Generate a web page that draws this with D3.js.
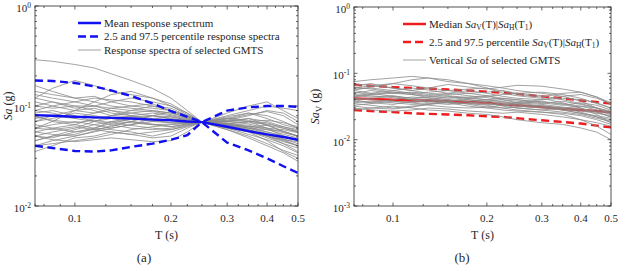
<!DOCTYPE html>
<html><head><meta charset="utf-8">
<script src="https://cdn.jsdelivr.net/npm/d3@7"></script>
<style>
body{margin:0;background:#fff}
svg{display:block}
text{font-family:"Liberation Serif","DejaVu Serif",serif;fill:#262626}
</style>
</head><body>
<svg id="chart" width="619" height="266"></svg>
<script>
// ---------- data ----------
const periods = [0.075,0.085,0.1,0.115,0.13,0.15,0.175,0.2,0.225,0.25,0.3,0.35,0.4,0.45,0.5];

// panel (a)
const meanA  = [0.081,0.080,0.078,0.077,0.076,0.075,0.073,0.072,0.070,0.069,0.062,0.056,0.052,0.049,0.046];
const upperA = [0.18,0.178,0.17,0.157,0.143,0.126,0.106,0.089,0.078,0.069,0.09,0.097,0.1,0.1,0.098];
const lowerA = [0.04,0.038,0.0355,0.035,0.036,0.039,0.042,0.046,0.051,0.069,0.043,0.036,0.030,0.025,0.0214];
const gmtsA = [
 [0.29,0.28,0.26,0.24,0.21,0.18,0.15,0.12,0.09,0.069,0.085,0.10,0.11,0.09,0.075],
 [0.12,0.15,0.18,0.16,0.14,0.13,0.12,0.105,0.085,0.069,0.08,0.09,0.10,0.095,0.09],
 [0.06,0.07,0.09,0.11,0.13,0.14,0.12,0.10,0.082,0.069,0.075,0.085,0.08,0.07,0.06],
 [0.05,0.055,0.06,0.07,0.08,0.09,0.10,0.095,0.08,0.069,0.06,0.055,0.05,0.045,0.04],
 [0.09,0.085,0.075,0.07,0.065,0.06,0.058,0.06,0.065,0.069,0.07,0.075,0.065,0.055,0.05],
 [0.04,0.045,0.05,0.055,0.06,0.065,0.07,0.072,0.07,0.069,0.062,0.055,0.045,0.035,0.03],
 [0.14,0.13,0.12,0.125,0.11,0.10,0.095,0.09,0.08,0.069,0.065,0.06,0.055,0.05,0.045],
 [0.07,0.08,0.075,0.085,0.09,0.08,0.085,0.08,0.074,0.069,0.066,0.07,0.068,0.06,0.055],
 [0.035,0.04,0.048,0.05,0.055,0.052,0.055,0.058,0.064,0.069,0.075,0.07,0.06,0.05,0.045],
 [0.10,0.11,0.095,0.10,0.11,0.12,0.11,0.10,0.085,0.069,0.058,0.05,0.042,0.036,0.032],
 [0.08,0.07,0.065,0.06,0.07,0.075,0.07,0.068,0.068,0.069,0.072,0.08,0.09,0.085,0.07],
 [0.06,0.065,0.07,0.065,0.06,0.065,0.075,0.078,0.073,0.069,0.063,0.058,0.052,0.046,0.04],
 [0.11,0.10,0.09,0.085,0.095,0.10,0.105,0.09,0.078,0.069,0.064,0.058,0.05,0.042,0.035],
 [0.045,0.05,0.058,0.065,0.07,0.068,0.065,0.062,0.066,0.069,0.07,0.068,0.066,0.062,0.058],
 [0.075,0.08,0.09,0.095,0.085,0.08,0.075,0.072,0.07,0.069,0.067,0.064,0.058,0.052,0.048],
 [0.055,0.06,0.065,0.075,0.08,0.085,0.09,0.085,0.076,0.069,0.06,0.052,0.046,0.04,0.034],
 [0.13,0.12,0.11,0.10,0.09,0.085,0.08,0.075,0.072,0.069,0.066,0.062,0.064,0.06,0.055],
 [0.05,0.048,0.055,0.06,0.058,0.055,0.05,0.055,0.062,0.069,0.078,0.085,0.075,0.065,0.06],
 [0.085,0.09,0.08,0.07,0.075,0.07,0.065,0.066,0.068,0.069,0.068,0.062,0.055,0.05,0.046],
 [0.065,0.06,0.055,0.058,0.062,0.07,0.08,0.088,0.08,0.069,0.065,0.06,0.058,0.056,0.05],
 [0.1,0.095,0.1,0.09,0.08,0.078,0.072,0.068,0.068,0.069,0.074,0.082,0.088,0.08,0.065],
 [0.04,0.042,0.045,0.048,0.052,0.058,0.062,0.065,0.067,0.069,0.064,0.058,0.05,0.044,0.04],
 [0.16,0.14,0.12,0.11,0.1,0.095,0.09,0.085,0.078,0.069,0.058,0.048,0.04,0.034,0.028],
 [0.07,0.075,0.085,0.08,0.075,0.078,0.08,0.074,0.071,0.069,0.07,0.066,0.06,0.054,0.05],
 [0.055,0.052,0.05,0.056,0.064,0.07,0.066,0.062,0.066,0.069,0.072,0.07,0.072,0.068,0.062],
 [0.09,0.1,0.11,0.12,0.115,0.11,0.1,0.09,0.08,0.069,0.062,0.056,0.048,0.042,0.038],
 [0.06,0.058,0.062,0.058,0.055,0.052,0.048,0.05,0.06,0.069,0.076,0.072,0.064,0.056,0.05],
 [0.12,0.11,0.1,0.1,0.095,0.09,0.088,0.082,0.075,0.069,0.065,0.062,0.06,0.058,0.054],
 [0.078,0.072,0.068,0.072,0.068,0.064,0.06,0.058,0.063,0.069,0.066,0.06,0.053,0.047,0.042],
 [0.045,0.05,0.052,0.06,0.067,0.074,0.08,0.078,0.072,0.069,0.07,0.075,0.07,0.062,0.056],
 [0.05,0.046,0.044,0.046,0.048,0.046,0.044,0.045,0.055,0.069,0.062,0.056,0.05,0.046,0.044]
];

// panel (b)
const medianB = [0.042,0.041,0.040,0.039,0.039,0.038,0.037,0.036,0.034,0.033,0.031,0.029,0.028,0.027,0.0258];
const upperB  = [0.067,0.065,0.062,0.06,0.059,0.057,0.055,0.053,0.051,0.049,0.045,0.042,0.039,0.037,0.035];
const lowerB  = [0.028,0.027,0.026,0.025,0.0245,0.024,0.0233,0.0225,0.022,0.021,0.0196,0.0185,0.0175,0.0163,0.0153];
const gmtsB = [
 [0.075,0.08,0.085,0.09,0.085,0.075,0.07,0.065,0.06,0.055,0.05,0.045,0.038,0.03,0.024],
 [0.06,0.065,0.06,0.055,0.06,0.068,0.062,0.058,0.062,0.066,0.064,0.058,0.052,0.044,0.036],
 [0.05,0.055,0.05,0.048,0.045,0.042,0.044,0.046,0.04,0.038,0.035,0.038,0.034,0.03,0.026],
 [0.04,0.042,0.045,0.04,0.038,0.036,0.035,0.034,0.035,0.032,0.03,0.028,0.025,0.022,0.02],
 [0.035,0.033,0.03,0.032,0.034,0.036,0.035,0.033,0.03,0.028,0.026,0.024,0.02,0.016,0.012],
 [0.03,0.028,0.027,0.028,0.03,0.029,0.027,0.026,0.025,0.026,0.024,0.022,0.02,0.018,0.016],
 [0.045,0.05,0.055,0.05,0.046,0.05,0.055,0.05,0.045,0.042,0.04,0.045,0.048,0.042,0.035],
 [0.055,0.05,0.045,0.042,0.04,0.044,0.04,0.038,0.036,0.034,0.032,0.03,0.028,0.026,0.022],
 [0.065,0.07,0.06,0.055,0.05,0.048,0.05,0.052,0.055,0.05,0.046,0.04,0.035,0.03,0.025],
 [0.038,0.036,0.04,0.044,0.042,0.038,0.034,0.031,0.03,0.031,0.033,0.03,0.026,0.022,0.018],
 [0.048,0.046,0.043,0.04,0.036,0.034,0.036,0.038,0.034,0.03,0.028,0.026,0.024,0.021,0.019],
 [0.033,0.035,0.038,0.036,0.033,0.031,0.03,0.031,0.033,0.036,0.04,0.042,0.04,0.036,0.03],
 [0.058,0.06,0.055,0.06,0.056,0.05,0.046,0.043,0.04,0.036,0.032,0.029,0.027,0.025,0.023],
 [0.042,0.04,0.038,0.036,0.038,0.04,0.037,0.035,0.033,0.035,0.038,0.034,0.03,0.024,0.018],
 [0.07,0.065,0.07,0.065,0.06,0.055,0.058,0.06,0.054,0.048,0.044,0.05,0.052,0.044,0.034],
 [0.028,0.03,0.032,0.03,0.028,0.027,0.025,0.024,0.022,0.02,0.018,0.017,0.015,0.013,0.01],
 [0.052,0.048,0.05,0.052,0.048,0.045,0.042,0.04,0.042,0.04,0.037,0.035,0.032,0.028,0.025],
 [0.036,0.038,0.036,0.034,0.035,0.038,0.04,0.036,0.032,0.03,0.028,0.03,0.032,0.03,0.027],
 [0.044,0.048,0.052,0.048,0.043,0.04,0.038,0.04,0.038,0.033,0.031,0.028,0.025,0.023,0.021],
 [0.062,0.058,0.052,0.05,0.052,0.055,0.05,0.046,0.042,0.04,0.036,0.033,0.036,0.033,0.028],
 [0.04,0.036,0.034,0.038,0.04,0.036,0.032,0.03,0.028,0.027,0.026,0.025,0.023,0.02,0.017],
 [0.046,0.044,0.046,0.042,0.044,0.046,0.043,0.04,0.037,0.036,0.034,0.031,0.029,0.027,0.024],
 [0.056,0.062,0.07,0.08,0.085,0.08,0.07,0.06,0.05,0.046,0.042,0.036,0.03,0.026,0.022],
 [0.032,0.03,0.029,0.031,0.034,0.038,0.042,0.045,0.048,0.05,0.052,0.048,0.042,0.035,0.03]
];

const xTickValues = [0.1,0.2,0.3,0.4,0.5];
const xTickLabels = ["0.1","0.2","0.3","0.4","0.5"];
const xMinorTicks = [0.075,0.08,0.09,0.125,0.15,0.175,0.225,0.25,0.275,0.325,0.35,0.375,0.425,0.45,0.475];
const yTicksA = [0.01,0.1,1], yExpA = ["-2","-1","0"];
const yTicksB = [0.001,0.01,0.1,1], yExpB = ["-3","-2","-1","0"];

// ---------- drawing ----------
const svg = d3.select("#chart");
const AX = "#262626";

function panel(o){
  const x = d3.scaleLog().domain([0.075,0.5]).range([o.l,o.r]);
  const y = d3.scaleLog().domain(o.yDomain).range([o.b,o.t]);
  const g = svg.append("g");
  const cid = "clip"+o.id;
  g.append("clipPath").attr("id",cid).append("rect")
    .attr("x",o.l).attr("y",o.t).attr("width",o.r-o.l).attr("height",o.b-o.t);
  const line = d3.line().x((d,i)=>x(periods[i])).y(d=>y(d));
  const data = g.append("g").attr("clip-path",`url(#${cid})`);

  const drawGrey = ()=> data.append("g").selectAll("path").data(o.grey).join("path")
      .attr("d",line).attr("fill","none").attr("stroke","#8a8a8a").attr("stroke-width",0.8);
  const drawCol = ()=>{
    [[o.lo,true],[o.hi,true],[o.mid,false]].forEach(([arr,dash])=>{
      data.append("path").attr("d",line(arr)).attr("fill","none").attr("stroke",o.color)
        .attr("stroke-width",2.4).attr("stroke-dasharray",dash?"8,4.5":null);
    });
  };
  if(o.colorOnTop){drawGrey();drawCol();} else {drawCol();drawGrey();}

  // box
  g.append("rect").attr("x",o.l).attr("y",o.t).attr("width",o.r-o.l).attr("height",o.b-o.t)
    .attr("fill","none").attr("stroke",AX).attr("stroke-width",0.8);

  // x ticks (bottom & top, inward)
  const tk = g.append("g").attr("stroke",AX).attr("stroke-width",0.7);
  xTickValues.forEach(v=>{
    tk.append("line").attr("x1",x(v)).attr("x2",x(v)).attr("y1",o.b).attr("y2",o.b-3.5);
    tk.append("line").attr("x1",x(v)).attr("x2",x(v)).attr("y1",o.t).attr("y2",o.t+3.5);
  });
  xMinorTicks.forEach(v=>{
    tk.append("line").attr("x1",x(v)).attr("x2",x(v)).attr("y1",o.b).attr("y2",o.b-2);
    tk.append("line").attr("x1",x(v)).attr("x2",x(v)).attr("y1",o.t).attr("y2",o.t+2);
  });
  // y ticks
  const [y0,y1] = o.yDomain;
  for(let e=Math.round(Math.log10(y0)); e<Math.round(Math.log10(y1)); e++){
    for(let m=2;m<=9;m++){
      const v = m*Math.pow(10,e);
      tk.append("line").attr("y1",y(v)).attr("y2",y(v)).attr("x1",o.l).attr("x2",o.l+2);
      tk.append("line").attr("y1",y(v)).attr("y2",y(v)).attr("x1",o.r).attr("x2",o.r-2);
    }
  }
  o.yTicks.forEach(v=>{
    tk.append("line").attr("y1",y(v)).attr("y2",y(v)).attr("x1",o.l).attr("x2",o.l+3.5);
    tk.append("line").attr("y1",y(v)).attr("y2",y(v)).attr("x1",o.r).attr("x2",o.r-3.5);
  });

  // tick labels
  g.append("g").selectAll("text").data(xTickValues).join("text")
    .attr("x",d=>x(d)).attr("y",o.b+16).attr("text-anchor","middle")
    .attr("font-size",11).text((d,i)=>xTickLabels[i]);
  o.yTicks.forEach((v,i)=>{
    const t = g.append("text").attr("x",o.l-4).attr("y",y(v)+6).attr("text-anchor","end").attr("font-size",11);
    t.append("tspan").text("10");
    t.append("tspan").attr("dy",-4.5).attr("font-size",7.5).text(o.yExp[i]);
  });

  // axis titles
  g.append("text").attr("x",(o.l+o.r)/2).attr("y",o.b+33).attr("text-anchor","middle")
    .attr("font-size",12).text("T (s)");
  g.append("text").attr("x",o.capX).attr("y",262).attr("text-anchor","middle")
    .attr("font-size",13).text(o.caption);
  const yl = g.append("text").attr("transform",`translate(${o.ylX},${(o.t+o.b)/2}) rotate(-90)`)
    .attr("text-anchor","middle").attr("font-size",12);
  yl.append("tspan").attr("font-style","italic").text("Sa");
  if(o.sub){ yl.append("tspan").attr("dy",3).attr("font-size",9).text("V"); yl.append("tspan").attr("dy",-3).text(" (g)"); }
  else yl.append("tspan").text(" (g)");

  // legend
  const lg = g.append("g");
  o.legend.forEach((row,i)=>{
    const yy = o.legY[i];
    lg.append("line").attr("x1",o.legX).attr("x2",o.legX+23).attr("y1",yy).attr("y2",yy)
      .attr("stroke",row.c).attr("stroke-width",row.w).attr("stroke-dasharray",row.d);
    const t = lg.append("text").attr("x",o.legX+26).attr("y",yy+3.5).attr("font-size",11);
    row.parts.forEach(p=>{
      const s = t.append("tspan").text(p[0]);
      if(p[1]==="i") s.attr("font-style","italic");
      if(p[1]==="sub") s.attr("font-size",7.5).attr("dy",2.5);
      if(p[1]==="up") s.attr("dy",-2.5);
    });
  });
}

panel({id:"a", l:35, r:298, t:6, b:206, yDomain:[0.01,1], yTicks:yTicksA, yExp:yExpA,
  grey:gmtsA, mid:meanA, hi:upperA, lo:lowerA, color:"#1010f0", colorOnTop:true,
  capX:144, caption:"(a)", ylX:12, sub:false,
  legX:78, legY:[23,36.5,50],
  legend:[
    {c:"#1010f0",w:2.5,d:null,parts:[["Mean response spectrum"]]},
    {c:"#1010f0",w:2.5,d:"8,4",parts:[["2.5 and 97.5 percentile response spectra"]]},
    {c:"#8a8a8a",w:0.8,d:null,parts:[["Response spectra of selected GMTS"]]}
  ]});

panel({id:"b", l:354, r:611, t:7, b:206, yDomain:[0.001,1], yTicks:yTicksB, yExp:yExpB,
  grey:gmtsB, mid:medianB, hi:upperB, lo:lowerB, color:"#ee1c1c", colorOnTop:false,
  capX:462, caption:"(b)", ylX:319, sub:true,
  legX:403, legY:[24,42,60],
  legend:[
    {c:"#ee1c1c",w:2.5,d:null,parts:[["Median "],["Sa","i"],["V","sub"],["(T)|","up"],["Sa","i"],["H","sub"],["(T","up"],["1","sub"],[")","up"]]},
    {c:"#ee1c1c",w:2.5,d:"8,4",parts:[["2.5 and 97.5 percentile "],["Sa","i"],["V","sub"],["(T)|","up"],["Sa","i"],["H","sub"],["(T","up"],["1","sub"],[")","up"]]},
    {c:"#8a8a8a",w:0.8,d:null,parts:[["Vertical "],["Sa","i"],[" of selected GMTS"]]}
  ]});
</script>
</body></html>
